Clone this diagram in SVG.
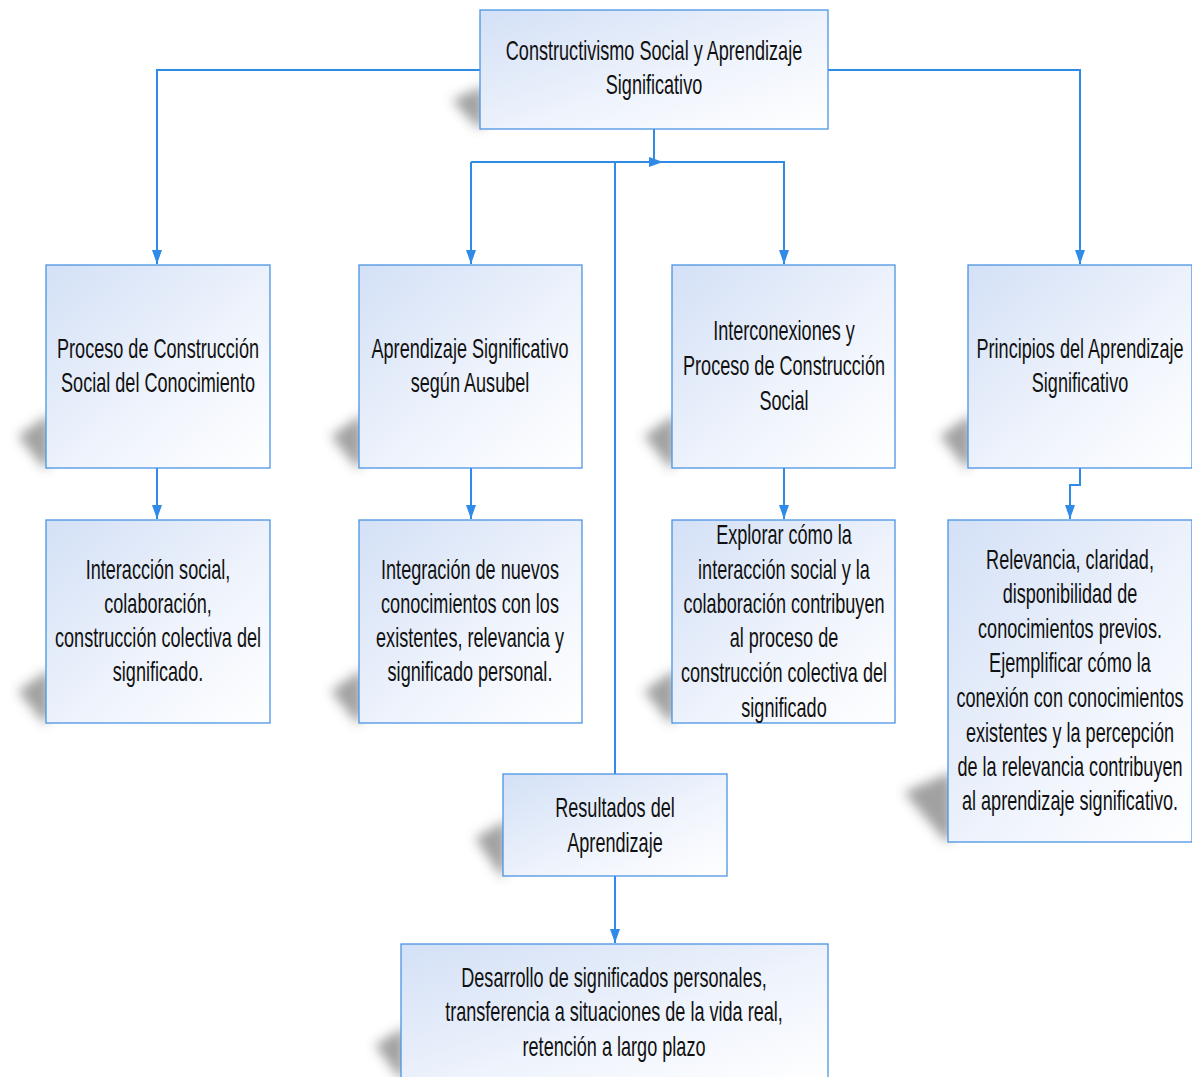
<svg xmlns="http://www.w3.org/2000/svg" width="1192" height="1077" viewBox="0 0 1192 1077">
<defs>
<linearGradient id="g" x1="0" y1="0" x2="1" y2="1">
<stop offset="0" stop-color="#d3e0f6"/>
<stop offset="0.55" stop-color="#eef3fc"/>
<stop offset="1" stop-color="#ffffff"/>
</linearGradient>
<filter id="blur" x="-50%" y="-50%" width="200%" height="200%"><feGaussianBlur stdDeviation="6"/></filter>
<marker id="arr" viewBox="0 0 14 10" refX="14" refY="5" markerWidth="14" markerHeight="10" markerUnits="userSpaceOnUse" orient="auto">
<path d="M0,0 L14,5 L0,10 z" fill="#2f8ae8"/>
</marker>
</defs>
<style>
.box{fill:url(#g);stroke:#4a94e4;stroke-width:1.3}
.sh{fill:#444;opacity:0.5;filter:url(#blur)}
.t{font-family:"Liberation Sans",Arial,sans-serif;font-size:27px;fill:#111;text-anchor:middle}
.c{fill:none;stroke:#2f8ae8;stroke-width:2}
</style>
<rect width="1192" height="1077" fill="#fff"/>
<g id="shadows">
<polygon class="sh" points="452,100 484,86 484,126 478,128"/>
<polygon class="sh" points="18,436 50,414 50,464 44,468"/>
<polygon class="sh" points="331,436 363,414 363,464 357,468"/>
<polygon class="sh" points="644,436 676,414 676,464 670,468"/>
<polygon class="sh" points="940,436 972,414 972,464 966,468"/>
<polygon class="sh" points="18,691 50,669 50,719 44,723"/>
<polygon class="sh" points="331,691 363,669 363,719 357,723"/>
<polygon class="sh" points="644,691 676,669 676,719 670,723"/>
<polygon class="sh" points="904,792 952,772 952,838 946,842"/>
<polygon class="sh" points="475,838 507,820 507,872 501,876"/>
<polygon class="sh" points="375,1045 405,1027 405,1077 399,1077"/>
</g>
<g id="connectors">
<path class="c" d="M480,70 H157 V264" marker-end="url(#arr)"/>
<path class="c" d="M828,70 H1080 V264" marker-end="url(#arr)"/>
<path class="c" d="M654,129 V162"/>
<path class="c" d="M471,162 H784 V264" marker-end="url(#arr)"/>
<path class="c" d="M471,162 V264" marker-end="url(#arr)"/>
<path class="c" d="M645,162 H663" marker-end="url(#arr)"/>
<path class="c" d="M615,162 V774"/>
<path class="c" d="M157,468 V519" marker-end="url(#arr)"/>
<path class="c" d="M471,468 V519" marker-end="url(#arr)"/>
<path class="c" d="M784,468 V519" marker-end="url(#arr)"/>
<path class="c" d="M1080,468 V485 H1070 V519" marker-end="url(#arr)"/>
<path class="c" d="M615,876 V943" marker-end="url(#arr)"/>
</g>
<g id="n0"><rect class="box" x="480" y="10" width="348" height="119"/>
<g transform="translate(654 0) scale(0.67 1)"><text class="t" x="0" y="60">Constructivismo Social y Aprendizaje</text><text class="t" x="0" y="94">Significativo</text></g></g>
<g id="n1"><rect class="box" x="46" y="265" width="224" height="203"/>
<g transform="translate(158 0) scale(0.67 1)"><text class="t" x="0" y="358">Proceso de Construcción</text><text class="t" x="0" y="392">Social del Conocimiento</text></g></g>
<g id="n2"><rect class="box" x="359" y="265" width="223" height="203"/>
<g transform="translate(470 0) scale(0.67 1)"><text class="t" x="0" y="358">Aprendizaje Significativo</text><text class="t" x="0" y="392">según Ausubel</text></g></g>
<g id="n3"><rect class="box" x="672" y="265" width="223" height="203"/>
<g transform="translate(784 0) scale(0.67 1)"><text class="t" x="0" y="340">Interconexiones y</text><text class="t" x="0" y="375">Proceso de Construcción</text><text class="t" x="0" y="410">Social</text></g></g>
<g id="n4"><rect class="box" x="968" y="265" width="224" height="203"/>
<g transform="translate(1080 0) scale(0.67 1)"><text class="t" x="0" y="358">Principios del Aprendizaje</text><text class="t" x="0" y="392">Significativo</text></g></g>
<g id="n5"><rect class="box" x="46" y="520" width="224" height="203"/>
<g transform="translate(158 0) scale(0.67 1)"><text class="t" x="0" y="579">Interacción social,</text><text class="t" x="0" y="613">colaboración,</text><text class="t" x="0" y="647">construcción colectiva del</text><text class="t" x="0" y="681">significado.</text></g></g>
<g id="n6"><rect class="box" x="359" y="520" width="223" height="203"/>
<g transform="translate(470 0) scale(0.67 1)"><text class="t" x="0" y="579">Integración de nuevos</text><text class="t" x="0" y="613">conocimientos con los</text><text class="t" x="0" y="647">existentes, relevancia y</text><text class="t" x="0" y="681">significado personal.</text></g></g>
<g id="n7"><rect class="box" x="672" y="520" width="223" height="203"/>
<g transform="translate(784 0) scale(0.67 1)"><text class="t" x="0" y="544">Explorar cómo la</text><text class="t" x="0" y="579">interacción social y la</text><text class="t" x="0" y="613">colaboración contribuyen</text><text class="t" x="0" y="647">al proceso de</text><text class="t" x="0" y="682">construcción colectiva del</text><text class="t" x="0" y="717">significado</text></g></g>
<g id="n8"><rect class="box" x="948" y="520" width="244" height="322"/>
<g transform="translate(1070 0) scale(0.67 1)"><text class="t" x="0" y="569">Relevancia, claridad,</text><text class="t" x="0" y="603">disponibilidad de</text><text class="t" x="0" y="638">conocimientos previos.</text><text class="t" x="0" y="672">Ejemplificar cómo la</text><text class="t" x="0" y="707">conexión con conocimientos</text><text class="t" x="0" y="742">existentes y la percepción</text><text class="t" x="0" y="776">de la relevancia contribuyen</text><text class="t" x="0" y="810">al aprendizaje significativo.</text></g></g>
<g id="n9"><rect class="box" x="503" y="774" width="224" height="102"/>
<g transform="translate(615 0) scale(0.67 1)"><text class="t" x="0" y="817">Resultados del</text><text class="t" x="0" y="852">Aprendizaje</text></g></g>
<g id="n10"><rect class="box" x="401" y="944" width="427" height="140"/>
<g transform="translate(614 0) scale(0.67 1)"><text class="t" x="0" y="987">Desarrollo de significados personales,</text><text class="t" x="0" y="1021">transferencia a situaciones de la vida real,</text><text class="t" x="0" y="1056">retención a largo plazo</text></g></g>
</svg>
